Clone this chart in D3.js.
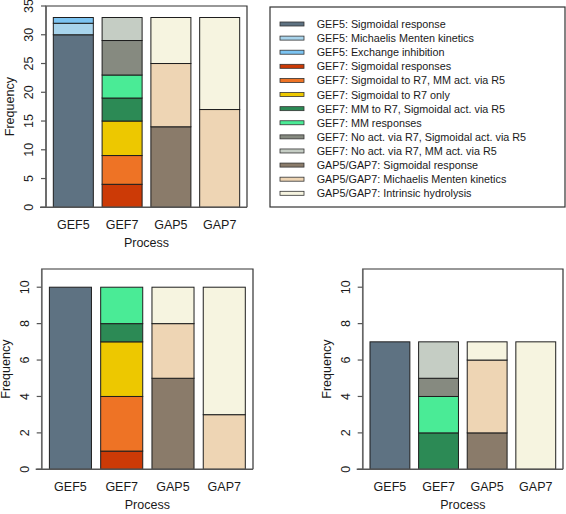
<!DOCTYPE html>
<html>
<head>
<meta charset="utf-8">
<script src="https://cdn.jsdelivr.net/npm/d3@7"></script>
<style>
  body { margin: 0; background: #fff; }
  svg { display: block; font-family: "Liberation Sans", Arial, Helvetica, sans-serif; }
</style>
</head>
<body>
<svg id="chart" width="566" height="514"></svg>
<script>
// ---- data ----
const processes = ["GEF5", "GEF7", "GAP5", "GAP7"];
const seriesNames = [
  "GEF5: Sigmoidal response",
  "GEF5: Michaelis Menten kinetics",
  "GEF5: Exchange inhibition",
  "GEF7: Sigmoidal responses",
  "GEF7: Sigmoidal to R7, MM act. via R5",
  "GEF7: Sigmoidal to R7 only",
  "GEF7: MM to R7, Sigmoidal act. via R5",
  "GEF7: MM responses",
  "GEF7: No act. via R7, Sigmoidal act. via R5",
  "GEF7: No act. via R7, MM act. via R5",
  "GAP5/GAP7: Sigmoidal response",
  "GAP5/GAP7: Michaelis Menten kinetics",
  "GAP5/GAP7: Intrinsic hydrolysis"
];
const seriesColors = [
  "#5e7282", "#a8d4ec", "#7cc4f2", "#cc3a06", "#ee7325", "#edc800",
  "#2c8a55", "#4aeb96", "#868a80", "#c5cdc4", "#8a7b6a", "#eed5b4", "#f6f4e0"
];
// values per series, in order of processes [GEF5, GEF7, GAP5, GAP7]
const topValues = [
  [30, 0, 0, 0], [2, 0, 0, 0], [1, 0, 0, 0],
  [0, 4, 0, 0], [0, 5, 0, 0], [0, 6, 0, 0], [0, 4, 0, 0], [0, 4, 0, 0], [0, 6, 0, 0], [0, 4, 0, 0],
  [0, 0, 14, 0], [0, 0, 11, 17], [0, 0, 8, 16]
];
const bottomLeftValues = [
  [10, 0, 0, 0], [0, 0, 0, 0], [0, 0, 0, 0],
  [0, 1, 0, 0], [0, 3, 0, 0], [0, 3, 0, 0], [0, 1, 0, 0], [0, 2, 0, 0], [0, 0, 0, 0], [0, 0, 0, 0],
  [0, 0, 5, 0], [0, 0, 3, 3], [0, 0, 2, 7]
];
const bottomRightValues = [
  [7, 0, 0, 0], [0, 0, 0, 0], [0, 0, 0, 0],
  [0, 0, 0, 0], [0, 0, 0, 0], [0, 0, 0, 0], [0, 2, 0, 0], [0, 2, 0, 0], [0, 1, 0, 0], [0, 2, 0, 0],
  [0, 0, 2, 0], [0, 0, 4, 0], [0, 0, 1, 7]
];
const topTicks = [0, 5, 10, 15, 20, 25, 30, 35];
const bottomTicks = [0, 2, 4, 6, 8, 10];
const xLabel = "Process";
const yLabel = "Frequency";

const svg = d3.select("#chart");
const TXT = "#1a1a1a";

function panel(values, ymax, ticks, box) {
  const g = svg.append("g");
  const x = d3.scaleBand().domain(processes).range([box.left, box.right])
    .paddingInner(0.18).paddingOuter(0.15);
  const y = d3.scaleLinear().domain([0, ymax]).range([box.bottom, box.top]);

  const rows = processes.map((p, i) => {
    const r = { process: p };
    seriesNames.forEach((s, j) => r[s] = values[j][i]);
    return r;
  });
  const stack = d3.stack().keys(seriesNames)(rows);
  stack.forEach((layer, j) => {
    g.selectAll(null).data(layer.filter(d => d[1] - d[0] > 0)).enter().append("rect")
      .attr("x", d => x(d.data.process))
      .attr("width", x.bandwidth())
      .attr("y", d => y(d[1]))
      .attr("height", d => y(d[0]) - y(d[1]))
      .attr("fill", seriesColors[j])
      .attr("stroke", "#1e1e1e")
      .attr("stroke-width", 1);
  });

  g.append("path")
    .attr("d", `M${box.left},${box.bottom}V${box.top}H${box.right}V${box.bottom}`)
    .attr("fill", "none").attr("stroke", "#333").attr("stroke-width", 1.2);
  g.append("line")
    .attr("x1", box.left - 6).attr("x2", box.right)
    .attr("y1", y(0)).attr("y2", y(0))
    .attr("stroke", "#555").attr("stroke-width", 1.5);
  g.append("line")
    .attr("x1", box.left).attr("x2", box.left)
    .attr("y1", y(0)).attr("y2", box.top)
    .attr("stroke", "#666").attr("stroke-width", 1.5);

  const ya = g.append("g");
  ya.selectAll(null).data(ticks).enter().append("line")
    .attr("x1", box.left - 5).attr("x2", box.left)
    .attr("y1", d => y(d)).attr("y2", d => y(d))
    .attr("stroke", "#555").attr("stroke-width", 1.2);
  ya.selectAll(null).data(ticks).enter().append("text")
    .attr("transform", d => `translate(${box.left - 17},${y(d)}) rotate(-90)`)
    .attr("text-anchor", "middle").attr("dominant-baseline", "central")
    .attr("font-size", 12.5).attr("fill", TXT)
    .text(d => d);

  g.selectAll(null).data(processes).enter().append("text")
    .attr("x", d => x(d) + x.bandwidth() / 2)
    .attr("y", y(0) + 22)
    .attr("text-anchor", "middle").attr("font-size", 12.5).attr("fill", TXT)
    .text(d => d);
  g.append("text")
    .attr("x", (box.left + box.right) / 2).attr("y", y(0) + 40)
    .attr("text-anchor", "middle").attr("font-size", 12.5).attr("fill", TXT)
    .text(xLabel);
  g.append("text")
    .attr("transform", `translate(${box.left - 36},${(box.top + y(0)) / 2}) rotate(-90)`)
    .attr("text-anchor", "middle").attr("dominant-baseline", "central")
    .attr("font-size", 12.5).attr("fill", TXT)
    .text(yLabel);
}

panel(topValues, 35, topTicks, { left: 46, right: 247, top: 6, bottom: 207.3 });
panel(bottomLeftValues, 11, bottomTicks, { left: 41.7, right: 253, top: 269, bottom: 469.3 });
panel(bottomRightValues, 11, bottomTicks, { left: 362.7, right: 563, top: 269, bottom: 469.3 });

// legend
const lg = svg.append("g");
lg.append("rect").attr("x", 270).attr("y", 7).attr("width", 295).attr("height", 200)
  .attr("fill", "#fff").attr("stroke", "#333").attr("stroke-width", 1.2);
const ly = d3.scaleLinear().domain([0, seriesNames.length - 1]).range([24, 193.3]);
seriesNames.forEach((s, j) => {
  lg.append("rect").attr("x", 280).attr("y", ly(j) - 2).attr("width", 24).attr("height", 4)
    .attr("fill", seriesColors[j]).attr("stroke", "#333").attr("stroke-width", 0.8);
  lg.append("text").attr("x", 316.7).attr("y", ly(j)).attr("dominant-baseline", "central")
    .attr("font-size", 10.8).attr("fill", TXT).text(s);
});
</script>
</body>
</html>
